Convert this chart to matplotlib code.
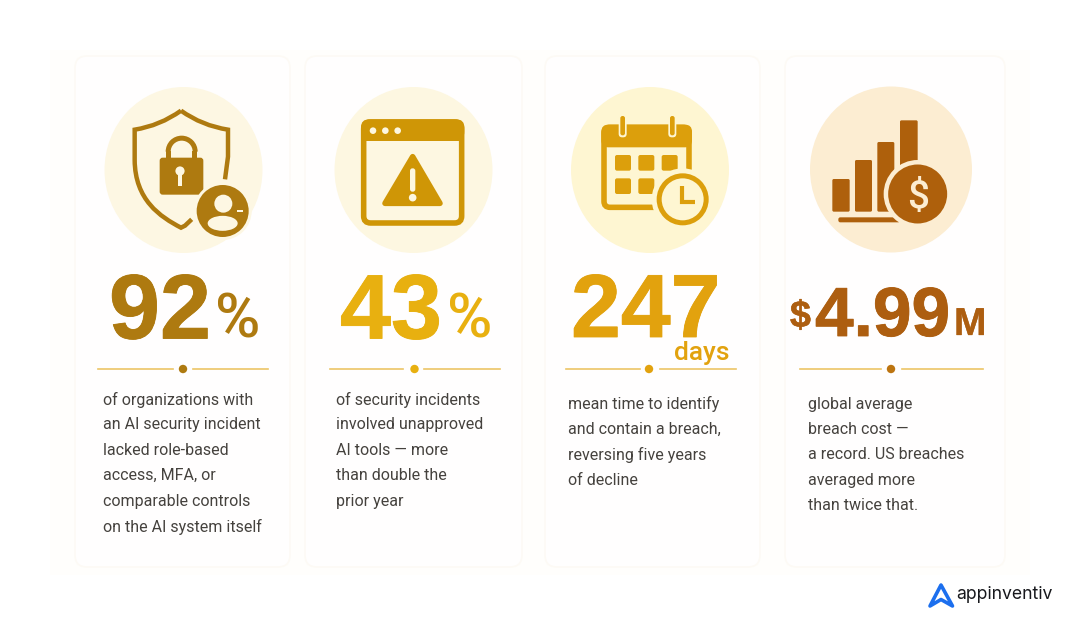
import matplotlib
matplotlib.use("Agg")
import matplotlib.pyplot as plt
import matplotlib.patheffects as pe
from matplotlib.patches import Circle, Ellipse, FancyBboxPatch, Polygon, Rectangle, PathPatch, Wedge
from matplotlib.path import Path

# ---- content ----
stat_main = ["92", "43", "247", "4.99"]
descriptions = [
    ["of organizations with", "an AI security incident", "lacked role-based", "access, MFA, or", "comparable controls", "on the AI system itself"],
    ["of security incidents", "involved unapproved", "AI tools — more", "than double the", "prior year"],
    ["mean time to identify", "and contain a breach,", "reversing five years", "of decline"],
    ["global average", "breach cost —", "a record. US breaches", "averaged more", "than twice that."],
]
brand = "appinventiv"

# ---- style ----
W, H = 1080, 633
TXT = "#45423e"
C1, C2, C3, C4 = "#ae7a10", "#e8b010", "#e2a20e", "#ad5e10"
ICON2, ICON3, ICON4 = "#cf9606", "#dc9f0c", "#ae600c"
LINE = "#ecc566"
B1, B2, B3, B4 = "#fdf7e3", "#fdf7e1", "#fef6d2", "#fcedd2"

fig = plt.figure(figsize=(W / 100, H / 100), dpi=100, facecolor="white")
ax = fig.add_axes([0, 0, 1, 1])
ax.set_xlim(0, W)
ax.set_ylim(H, 0)
ax.axis("off")

# panel + cards
ax.add_patch(Rectangle((50, 50), 980, 525, fc="#fffefc", ec="none", zorder=0))
cards = [(75, 215), (305, 217), (545, 215), (785, 220)]
for x, w in cards:
    ax.add_patch(FancyBboxPatch((x, 56), w, 511, boxstyle="round,pad=0,rounding_size=12",
                                fc="#fffefe", ec="#fdfaf5", lw=1.2, zorder=1))

# badges
badges = [(183.5, 170, 79, 83, B1), (413.5, 170, 79, 83, B2), (650, 170, 79, 83, B3), (891, 169.5, 81, 83, B4)]
for x, y, rx, ry, c in badges:
    ax.add_patch(Ellipse((x, y), 2 * rx, 2 * ry, fc=c, ec="none", zorder=2))

Z = 5

def z1(x, y):
    return (60 + x / 3, 60 + y / 3)

def z2(x, y):
    return (540 + x / 3, 60 + y / 3)

def rr(p0, p1, rad, fc, z=Z):
    ax.add_patch(FancyBboxPatch(p0, p1[0] - p0[0], p1[1] - p0[1],
                 boxstyle=f"round,pad=0,rounding_size={rad}", fc=fc, ec="none", zorder=z))

# --- shield icon ---
M, L, C3_, C4_ = Path.MOVETO, Path.LINETO, Path.CURVE3, Path.CURVE4
left = [z1(363, 152), z1(300, 197), z1(224, 209), z1(224, 300), z1(225, 420), z1(300, 470), z1(363, 503), z1(375, 497), z1(395, 478)]
left_c = [M, C3_, C3_, L, C4_, C4_, C4_, L, L]
right = [z1(363, 152), z1(426, 197), z1(504, 209), z1(504, 290), z1(495, 358)]
right_c = [M, C3_, C3_, L, L]
ax.add_patch(PathPatch(Path(left, left_c), fc="none", ec=C1, lw=3.2, zorder=Z, joinstyle="miter"))
ax.add_patch(PathPatch(Path(right, right_c), fc="none", ec=C1, lw=3.2, zorder=Z, joinstyle="miter"))
# lock
ax.add_patch(Wedge(z1(365, 275), 16, 180, 360, width=5, fc=C1, ec="none", zorder=Z))
ax.add_patch(Rectangle(z1(317, 273), 5, 12, fc=C1, ec="none", zorder=Z))
ax.add_patch(Rectangle(z1(397, 273), 5, 12, fc=C1, ec="none", zorder=Z))
rr(z1(299, 293), z1(430, 404), 3, C1)
ax.add_patch(Circle(z1(360, 333), 4.6, fc=B1, ec="none", zorder=Z + 1))
ax.add_patch(Rectangle(z1(354, 335), 4, 14, fc=B1, ec="none", zorder=Z + 1))
# user badge
ax.add_patch(Circle(z1(488, 453), 29, fc=B1, ec="none", zorder=Z + 1))
ax.add_patch(Circle(z1(488, 453), 26, fc=C1, ec="none", zorder=Z + 2))
ax.add_patch(Circle(z1(490, 431), 9, fc=B1, ec="none", zorder=Z + 3))
ax.add_patch(Ellipse(z1(488, 490), 30, 15, fc=B1, ec="none", zorder=Z + 3))
ax.add_patch(Rectangle(z1(530, 451), 6, 2, fc=B1, ec="none", zorder=Z + 4))

# --- browser warning icon ---
ax.add_patch(FancyBboxPatch(z1(911, 186), 98, 101, boxstyle="round,pad=0,rounding_size=7",
                            fc="none", ec=ICON2, lw=4, zorder=Z))
rr(z1(903, 178), z1(1213, 240), 8, ICON2)
ax.add_patch(Rectangle(z1(903, 215), 103.3, 9.7, fc=ICON2, ec="none", zorder=Z))
for bx in (939, 976, 1013):
    ax.add_patch(Circle(z1(bx, 212), 3.3, fc=B2, ec="none", zorder=Z + 1))
ax.add_patch(Polygon([z1(1058, 290), z1(1140, 430), z1(975, 430)], closed=True, fc=ICON2, ec=ICON2,
                     lw=4, joinstyle="round", zorder=Z))
rr(z1(1050, 325), z1(1066, 395), 2.5, B2, Z + 1)
ax.add_patch(Circle(z1(1058, 413), 3.8, fc=B2, ec="none", zorder=Z + 1))

# --- calendar icon ---
ax.add_patch(FancyBboxPatch(z2(192, 202), 85, 80, boxstyle="round,pad=0,rounding_size=6",
                            fc="none", ec=ICON3, lw=4, zorder=Z))
rr(z2(184, 194), z2(456, 262), 7, ICON3)
for bx in (248, 397):
    rr(z2(bx - 12, 160), z2(bx + 12, 232), 3.5, B3, Z + 1)
    rr(z2(bx - 7, 168), z2(bx + 7, 226), 2.2, ICON3, Z + 2)
for gx, gy in [(225, 285), (295, 285), (365, 285), (225, 355), (295, 355)]:
    rr(z2(gx, gy), z2(gx + 48, gy + 47), 2, ICON3)
ax.add_patch(Circle(z2(428, 418), 31, fc=B3, ec="none", zorder=Z + 2))
ax.add_patch(Circle(z2(428, 418), 23.5, fc=B3, ec=ICON3, lw=3.6, zorder=Z + 3))
ax.plot(*zip(z2(425, 378), z2(425, 427), z2(464, 427)), color=ICON3, lw=3, zorder=Z + 4,
        solid_capstyle="butt", solid_joinstyle="miter")

# --- finance icon ---
for x0, x1, y0 in [(877, 929, 357), (945, 996, 300), (1012, 1063, 246), (1080, 1133, 181)]:
    rr(z2(x0, y0), z2(x1, 455), 1.5, ICON4)
rr(z2(895, 472), z2(1080, 487), 2, ICON4)
ax.add_patch(Circle(z2(1133, 402), 34, fc=B4, ec="none", zorder=Z + 1))
ax.add_patch(Circle(z2(1133, 402), 29.5, fc=ICON4, ec="none", zorder=Z + 2))
ax.text(*z2(1133, 402), "$", fontsize=28, fontweight="medium", family="Roboto", color=B4,
        ha="center", va="center_baseline", zorder=Z + 3)

# --- numbers ---
BIG = dict(family="Liberation Sans", fontweight="bold", va="baseline", zorder=Z)
UNIT = dict(family="Roboto", fontweight="medium", va="baseline", zorder=Z)

def heavy(t, col, w=0.6):
    t.set_path_effects([pe.withStroke(linewidth=w, foreground=col)])

heavy(ax.text(109, 338.5, stat_main[0], fontsize=66, color=C1, ha="left", **BIG), C1)
ax.text(215, 337.5, "%", fontsize=44.5, color=C1, ha="left", **UNIT)
heavy(ax.text(340, 338.5, stat_main[1], fontsize=66, color=C2, ha="left", **BIG), C2)
ax.text(447, 337.5, "%", fontsize=44.5, color=C2, ha="left", **UNIT)
heavy(ax.text(571, 337, stat_main[2], fontsize=64.5, color=C3, ha="left", **BIG), C3)
ax.text(674, 360, "days", fontsize=19, color=C3, ha="left", family="Roboto", fontweight="medium",
        va="baseline", zorder=Z)
heavy(ax.text(790, 327, "$", fontsize=27, color=C4, ha="left", **BIG), C4, 0.4)
heavy(ax.text(815, 336, stat_main[3], fontsize=50, color=C4, ha="left", **BIG), C4)
heavy(ax.text(954, 335, "M", fontsize=28, color=C4, ha="left", **BIG), C4, 0.2)

# --- dividers ---
divs = [(98, 173, 193, 268, 183, C1), (330, 403, 424, 500, 414.5, C2), (566, 640, 660, 736, 649, C3),
        (800, 881, 902, 983, 891, "#bc7410")]
for a, b, c, d, m, col in divs:
    ax.plot([a, b], [369, 369], color=LINE, lw=1.2, zorder=Z)
    ax.plot([c, d], [369, 369], color=LINE, lw=1.2, zorder=Z)
    ax.add_patch(Circle((m, 369), 4.2, fc=col, ec="none", zorder=Z))

# --- descriptions ---
starts = [(103, 399.5), (336, 399.5), (568, 404), (808, 404)]
for (x, y), lines in zip(starts, descriptions):
    for i, t in enumerate(lines):
        ax.text(x, y + i * 25.4, t, fontsize=11.5, family="Roboto", color=TXT, ha="left", va="center", zorder=Z)

# --- logo ---
ax.add_patch(Polygon([(930, 606), (941, 585), (952.5, 606), (941, 599.5)], closed=True, fc="none", ec="#1c6fee",
                     lw=2.6, joinstyle="round", zorder=Z))
ax.text(956, 594.5, brand, fontsize=12.7, family="Inter", color="#17181c", ha="left", va="center", zorder=Z)

fig.savefig("out.png", dpi=100, facecolor="white")
